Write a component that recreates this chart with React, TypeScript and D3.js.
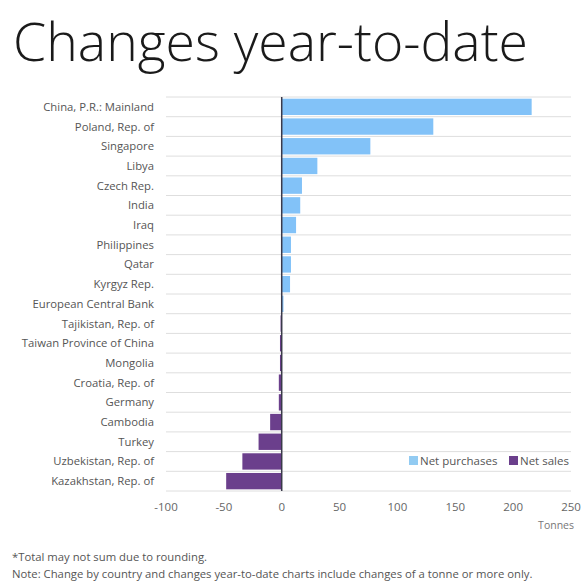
import React, { useEffect, useRef } from 'react';
import * as d3 from 'd3';

const countries = [
  'China, P.R.: Mainland',
  'Poland, Rep. of',
  'Singapore',
  'Libya',
  'Czech Rep.',
  'India',
  'Iraq',
  'Philippines',
  'Qatar',
  'Kyrgyz Rep.',
  'European Central Bank',
  'Tajikistan, Rep. of',
  'Taiwan Province of China',
  'Mongolia',
  'Croatia, Rep. of',
  'Germany',
  'Cambodia',
  'Turkey',
  'Uzbekistan, Rep. of',
  'Kazakhstan, Rep. of',
];

const changes = [216, 131, 76.6, 30.8, 17.5, 16, 12.4, 8, 8, 7.2, 1.5, -1, -1.5, -1.5, -2.5, -2.5, -10, -20, -34, -48];

const xTicks = [-100, -50, 0, 50, 100, 150, 200, 250];

const legendItems = ['Net purchases', 'Net sales'];

const FONT = "'Open Sans', 'Noto Sans', sans-serif";

const App: React.FC = () => {
  const svgRef = useRef<SVGSVGElement>(null);

  useEffect(() => {
    const svg = d3.select(svgRef.current);
    svg.selectAll('*').remove();

    const width = 585;
    const height = 585;
    const margin = { top: 97, left: 166, right: 14, bottom: 94 };
    const chartWidth = width - margin.left - margin.right;
    const chartHeight = height - margin.top - margin.bottom;

    svg.attr('width', width).attr('height', height);

    svg.append('rect').attr('width', width).attr('height', height).attr('fill', '#fff');

    // Title
    svg.append('text')
      .attr('x', 13)
      .attr('y', 61)
      .style('font-family', FONT)
      .style('font-size', '53.5px')
      .style('font-weight', 300)
      .style('fill', '#1a1a1a')
      .text('Changes year-to-date');

    const g = svg.append('g').attr('transform', `translate(${margin.left}, ${margin.top})`);

    const xScale = d3.scaleLinear().domain([-100, 250]).range([0, chartWidth]);
    const yScale = d3.scaleBand().domain(countries).range([0, chartHeight]).paddingInner(0.17).paddingOuter(0.085);

    // Row grid lines (band boundaries)
    const step = yScale.step();
    const boundaries = d3.range(countries.length + 1).map(i => i * step);
    g.selectAll('.grid')
      .data(boundaries)
      .enter()
      .append('line')
      .attr('x1', 0)
      .attr('x2', chartWidth)
      .attr('y1', d => d)
      .attr('y2', d => d)
      .attr('stroke', '#dedede')
      .attr('stroke-width', 1);

    // Bars
    g.selectAll('.bar')
      .data(countries.map((c, i) => ({ c, v: changes[i] })))
      .enter()
      .append('rect')
      .attr('x', d => xScale(Math.min(0, d.v)))
      .attr('y', d => yScale(d.c) || 0)
      .attr('width', d => Math.abs(xScale(d.v) - xScale(0)))
      .attr('height', yScale.bandwidth())
      .attr('fill', d => (d.v >= 0 ? '#82c2f8' : '#6b3f8c'));

    // Zero line
    g.append('line')
      .attr('x1', xScale(0))
      .attr('x2', xScale(0))
      .attr('y1', 0)
      .attr('y2', chartHeight)
      .attr('stroke', '#3a3a4a')
      .attr('stroke-width', 1.5);

    // Category labels
    g.selectAll('.label')
      .data(countries)
      .enter()
      .append('text')
      .attr('x', -12)
      .attr('y', d => (yScale(d) || 0) + yScale.bandwidth() / 2)
      .attr('dy', '0.35em')
      .attr('text-anchor', 'end')
      .style('font-family', FONT)
      .style('font-size', '11.3px')
      .style('fill', '#555')
      .text(d => d);

    // X tick labels
    g.selectAll('.tick')
      .data(xTicks)
      .enter()
      .append('text')
      .attr('x', d => xScale(d))
      .attr('y', chartHeight + 20)
      .attr('text-anchor', 'middle')
      .style('font-family', FONT)
      .style('font-size', '11.5px')
      .style('fill', '#666')
      .text(d => d);

    g.append('text')
      .attr('x', chartWidth + 3)
      .attr('y', chartHeight + 38)
      .attr('text-anchor', 'end')
      .style('font-family', FONT)
      .style('font-size', '10.5px')
      .style('fill', '#777')
      .text('Tonnes');

    // Legend
    const legendColors = ['#92cbf2', '#6b3f8c'];
    const legendX = [409, 509];
    legendItems.forEach((name, i) => {
      svg.append('rect')
        .attr('x', legendX[i])
        .attr('y', 456)
        .attr('width', 9)
        .attr('height', 9)
        .attr('fill', legendColors[i]);
      svg.append('text')
        .attr('x', legendX[i] + 11)
        .attr('y', 465)
        .style('font-family', FONT)
        .style('font-size', '11.5px')
        .style('fill', '#555')
        .text(name);
    });

    // Footnotes
    const notes = [
      '*Total may not sum due to rounding.',
      'Note: Change by country and changes year-to-date charts include changes of a tonne or more only.',
    ];
    notes.forEach((n, i) => {
      svg.append('text')
        .attr('x', 12)
        .attr('y', 561 + i * 17)
        .style('font-family', FONT)
        .style('font-size', '11.3px')
        .style('fill', '#555')
        .text(n);
    });
  }, []);

  return <svg ref={svgRef} style={{ display: 'block', position: 'absolute', left: 0, top: 0 }}></svg>;
};

export default App;
